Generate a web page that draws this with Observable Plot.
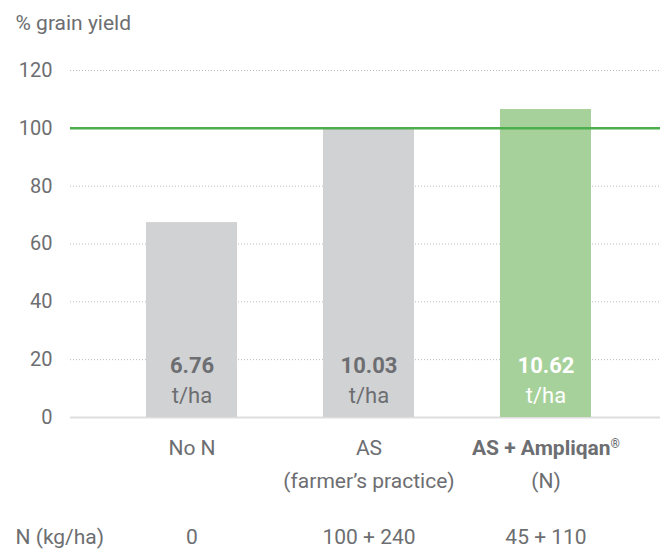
<!DOCTYPE html>
<html>
<head>
<meta charset="utf-8">
<script src="https://cdn.jsdelivr.net/npm/d3@7"></script>
<script src="https://cdn.jsdelivr.net/npm/@observablehq/plot@0.6"></script>
<style>
  html, body { margin: 0; padding: 0; background: #fff; }
  #chart { width: 663px; height: 551px; }
</style>
</head>
<body>
<div id="chart"></div>
<script>
const categories = ["No N", "AS", "AS + Ampliqan®"];
const subLabels = ["", "(farmer’s practice)", "(N)"];
const yieldPct = [67.4, 100, 106.5];
const tonnes = ["6.76", "10.03", "10.62"];
const nRates = ["0", "100 + 240", "45 + 110"];
const yTicks = [0, 20, 40, 60, 80, 100, 120];
const referenceLine = [100];
const barColors = ["#d1d2d4", "#d1d2d4", "#a6d19a"];

const data = categories.map((c, i) => ({
  cat: c, sub: subLabels[i], pct: yieldPct[i], t: tonnes[i], n: nRates[i], green: i === 2
}));

const textColor = "#6d6e71";
const font = "Roboto, 'Liberation Sans', sans-serif";
const gray = data.filter(d => !d.green);
const green = data.filter(d => d.green);

const chart = Plot.plot({
  width: 663,
  height: 551,
  marginLeft: 70,
  marginRight: 3,
  marginTop: 70,
  marginBottom: 134,
  style: { fontFamily: font, color: textColor, background: "#fff" },
  x: { domain: categories, range: [70, 666], paddingInner: 0.487, paddingOuter: 0.4225, axis: null },
  y: { domain: [0, 120], axis: null },
  color: { domain: categories, range: barColors },
  marks: [
    Plot.gridY(yTicks.filter(v => v > 0), { stroke: "#b8b8b8", strokeOpacity: 1, strokeDasharray: "1,2" }),
    Plot.ruleY([0], { stroke: "#dedede", strokeWidth: 2 }),
    Plot.barY(data, { x: "cat", y: "pct", fill: "cat" }),
    Plot.ruleY(referenceLine, { stroke: "#4cae4c", strokeWidth: 2.5 }),
    Plot.axisY(yTicks, { tickSize: 0, tickPadding: 18, fontSize: 20, fill: textColor, label: null }),
    // values in bars
    Plot.text(gray, { x: "cat", text: "t", frameAnchor: "bottom", lineAnchor: "middle", dy: -52, fontSize: 22, fontWeight: "bold", fill: textColor }),
    Plot.text(gray, { x: "cat", text: () => "t/ha", frameAnchor: "bottom", lineAnchor: "middle", dy: -22, fontSize: 22, fill: textColor }),
    Plot.text(green, { x: "cat", text: "t", frameAnchor: "bottom", lineAnchor: "middle", dy: -52, fontSize: 22, fontWeight: "bold", fill: "#fff" }),
    Plot.text(green, { x: "cat", text: () => "t/ha", frameAnchor: "bottom", lineAnchor: "middle", dy: -22, fontSize: 22, fill: "#fff" }),
    // category labels
    Plot.text(gray, { x: "cat", text: "cat", frameAnchor: "bottom", lineAnchor: "middle", dy: 31, fontSize: 21, fill: textColor }),
    Plot.text(green, { x: "cat", text: "cat", frameAnchor: "bottom", lineAnchor: "middle", dy: 31, fontSize: 21, fontWeight: "bold", fill: textColor }),
    Plot.text(data, { x: "cat", text: "sub", frameAnchor: "bottom", lineAnchor: "middle", dy: 64, fontSize: 21, fill: textColor }),
    Plot.text(data, { x: "cat", text: "n", frameAnchor: "bottom", lineAnchor: "middle", dy: 120, fontSize: 21, fill: textColor }),
    Plot.text(["N (kg/ha)"], { frameAnchor: "bottom-left", lineAnchor: "middle", dx: -55, dy: 120, textAnchor: "start", fontSize: 21, fill: textColor }),
    Plot.text(["% grain yield"], { frameAnchor: "top-left", lineAnchor: "middle", dx: -55, dy: -47, textAnchor: "start", fontSize: 21, fill: textColor })
  ]
});

// render ® as a small superscript
chart.querySelectorAll("text").forEach(t => {
  if (t.textContent.includes("®") && t.children.length === 0) {
    const parts = t.textContent.split("®");
    t.textContent = parts[0];
    const sup = document.createElementNS("http://www.w3.org/2000/svg", "tspan");
    sup.setAttribute("font-size", "12");
    sup.setAttribute("baseline-shift", "super");
    sup.textContent = "®";
    t.appendChild(sup);
  }
});

document.getElementById("chart").appendChild(chart);
</script>
</body>
</html>
